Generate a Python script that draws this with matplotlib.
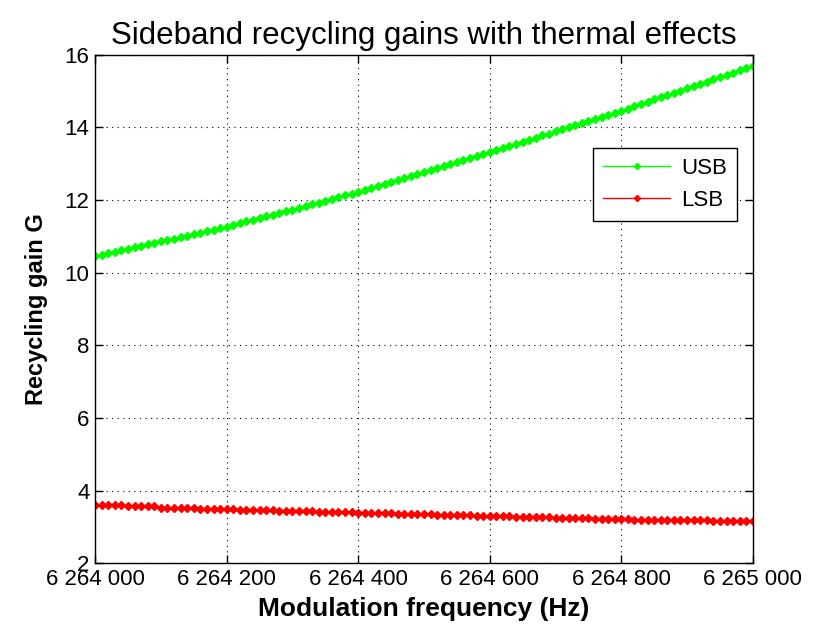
import matplotlib
matplotlib.use('Agg')
import matplotlib.pyplot as plt
from matplotlib.ticker import FuncFormatter, MultipleLocator

plt.rcParams['font.family'] = ['Liberation Sans', 'DejaVu Sans']

# modulation frequency sweep, 10 Hz steps
freq = [6264000 + 10 * i for i in range(101)]

usb_gain = [
    10.46, 10.50, 10.54, 10.58, 10.62, 10.66, 10.70, 10.74, 10.78, 10.82,
    10.86, 10.90, 10.94, 10.98, 11.02, 11.06, 11.10, 11.14, 11.18, 11.23,
    11.27, 11.32, 11.36, 11.41, 11.45, 11.50, 11.55, 11.59, 11.64, 11.69,
    11.74, 11.78, 11.83, 11.88, 11.93, 11.98, 12.03, 12.08, 12.13, 12.18,
    12.23, 12.28, 12.33, 12.39, 12.44, 12.50, 12.55, 12.60, 12.66, 12.71,
    12.77, 12.82, 12.88, 12.93, 12.99, 13.04, 13.10, 13.15, 13.21, 13.26,
    13.32, 13.38, 13.43, 13.49, 13.55, 13.60, 13.66, 13.72, 13.78, 13.83,
    13.89, 13.95, 14.01, 14.06, 14.12, 14.18, 14.23, 14.29, 14.35, 14.40,
    14.46, 14.52, 14.58, 14.64, 14.71, 14.77, 14.83, 14.89, 14.95, 15.01,
    15.08, 15.14, 15.20, 15.26, 15.33, 15.39, 15.45, 15.51, 15.58, 15.64,
    15.70,
]

lsb_gain = [
    3.60, 3.60, 3.60, 3.60, 3.60, 3.57, 3.57, 3.57, 3.57, 3.57,
    3.53, 3.53, 3.53, 3.53, 3.53, 3.53, 3.49, 3.49, 3.49, 3.49,
    3.49, 3.49, 3.46, 3.46, 3.46, 3.46, 3.46, 3.46, 3.44, 3.44,
    3.44, 3.44, 3.44, 3.44, 3.40, 3.40, 3.40, 3.40, 3.40, 3.40,
    3.38, 3.38, 3.38, 3.38, 3.38, 3.38, 3.35, 3.35, 3.35, 3.35,
    3.35, 3.35, 3.33, 3.33, 3.33, 3.33, 3.33, 3.33, 3.30, 3.30,
    3.30, 3.30, 3.30, 3.30, 3.28, 3.28, 3.28, 3.28, 3.28, 3.28,
    3.25, 3.25, 3.25, 3.25, 3.25, 3.25, 3.23, 3.23, 3.23, 3.23,
    3.23, 3.23, 3.20, 3.20, 3.20, 3.20, 3.20, 3.20, 3.18, 3.18,
    3.18, 3.18, 3.18, 3.18, 3.15, 3.15, 3.15, 3.15, 3.15, 3.15,
    3.15,
]

fig = plt.figure(figsize=(8.13, 6.3), dpi=100)
ax = fig.add_axes([0.117, 0.106, 0.809, 0.807])

ax.plot(freq, usb_gain, color=(0, 1, 0), lw=1, marker='D', ms=4.5, label='USB')
ax.plot(freq, lsb_gain, color=(1, 0, 0), lw=1, marker='D', ms=4.5, label='LSB')

ax.set_xlim(6264000, 6265000)
ax.set_ylim(2, 16)
ax.xaxis.set_major_locator(MultipleLocator(200))
ax.yaxis.set_major_locator(MultipleLocator(2))

def spaced(v, pos):
    return f'{int(round(v)):,}'.replace(',', ' ')

ax.xaxis.set_major_formatter(FuncFormatter(spaced))

ax.grid(True, color='black', linestyle=(0, (1, 4)), linewidth=0.8)
ax.tick_params(direction='in', top=True, right=True, length=6, width=1,
               labelsize=16, pad=4)
for s in ax.spines.values():
    s.set_linewidth(1)

ax.set_title('Sideband recycling gains with thermal effects', fontsize=22.5, pad=8)
ax.set_xlabel('Modulation frequency (Hz)', fontsize=19, fontweight='bold',
              labelpad=5)
ax.set_ylabel('Recycling gain G', fontsize=17, fontweight='bold', labelpad=12)

ax.legend(loc='upper right', bbox_to_anchor=(0.976, 0.817), fontsize=16,
          fancybox=False, framealpha=1, edgecolor='black', markerscale=0.7,
          handlelength=3.0, handletextpad=0.5, borderpad=0.45,
          labelspacing=0.5, borderaxespad=0)

fig.savefig('out.png', dpi=100)
